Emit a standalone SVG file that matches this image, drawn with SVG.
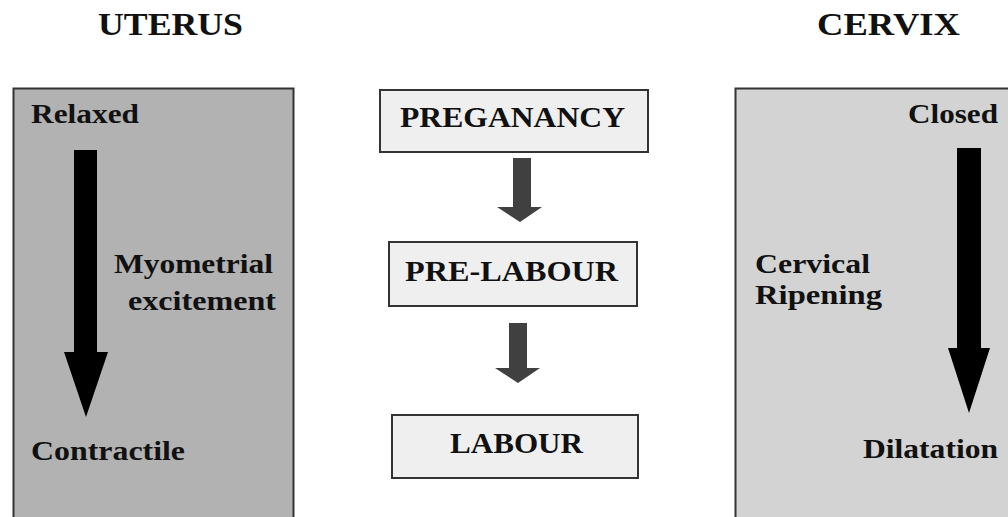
<svg xmlns="http://www.w3.org/2000/svg" width="1008" height="517" viewBox="0 0 1008 517">
<style>
text{font-family:"Liberation Serif","Times New Roman",serif;font-weight:bold;fill:#111}
.title{font-size:32px}
.lbl{font-size:27px}
.stage{font-size:29px}
.panel{stroke:#333;stroke-width:2}
.sbox{fill:#efefef;stroke:#333;stroke-width:2}
.big{fill:#000}
.small{fill:#404040}
</style>
<rect width="1008" height="517" fill="#fff"/>
<g id="uterus-title"><text class="title" x="98" y="35" textLength="145" lengthAdjust="spacingAndGlyphs">UTERUS</text></g>
<g id="cervix-title"><text class="title" x="817" y="35" textLength="143" lengthAdjust="spacingAndGlyphs">CERVIX</text></g>
<g id="uterus">
<rect class="panel" x="13.5" y="88.5" width="280" height="440" fill="#b2b2b2"/>
<text class="lbl" x="31" y="123" textLength="108" lengthAdjust="spacingAndGlyphs">Relaxed</text>
<text class="lbl" x="114" y="273" textLength="159" lengthAdjust="spacingAndGlyphs">Myometrial</text>
<text class="lbl" x="128" y="310" textLength="148" lengthAdjust="spacingAndGlyphs">excitement</text>
<text class="lbl" x="31" y="460" textLength="154" lengthAdjust="spacingAndGlyphs">Contractile</text>
</g>
<g id="cervix">
<rect class="panel" x="735.5" y="88.5" width="290" height="440" fill="#d3d3d3"/>
<text class="lbl" x="908" y="123" textLength="90" lengthAdjust="spacingAndGlyphs">Closed</text>
<text class="lbl" x="755" y="273" textLength="115" lengthAdjust="spacingAndGlyphs">Cervical</text>
<text class="lbl" x="755" y="304" textLength="127" lengthAdjust="spacingAndGlyphs">Ripening</text>
<text class="lbl" x="863" y="458" textLength="135" lengthAdjust="spacingAndGlyphs">Dilatation</text>
</g>
<g id="pregnancy">
<rect class="sbox" x="380" y="90" width="268" height="62"/>
<text class="stage" x="400" y="127" textLength="225" lengthAdjust="spacingAndGlyphs">PREGANANCY</text>
</g>
<g id="pre-labour">
<rect class="sbox" x="389" y="242" width="248" height="64"/>
<text class="stage" x="405" y="281" textLength="213" lengthAdjust="spacingAndGlyphs">PRE-LABOUR</text>
</g>
<g id="labour">
<rect class="sbox" x="392" y="415" width="246" height="63"/>
<text class="stage" x="450" y="453" textLength="133" lengthAdjust="spacingAndGlyphs">LABOUR</text>
</g>
<g id="connectors">
<path class="big" d="M74 150 H97 V352 H108 L86 417 L64 352 H74 Z"/>
<path class="big" d="M957 148 H981 V348 H990 L969 413 L948 348 H957 Z"/>
<path class="small" d="M513 158 H531 V207 H542 L520 222 L497 207 H513 Z"/>
<path class="small" d="M509 323 H527 V368 H540 L518 383 L495 368 H509 Z"/>
</g>
</svg>
